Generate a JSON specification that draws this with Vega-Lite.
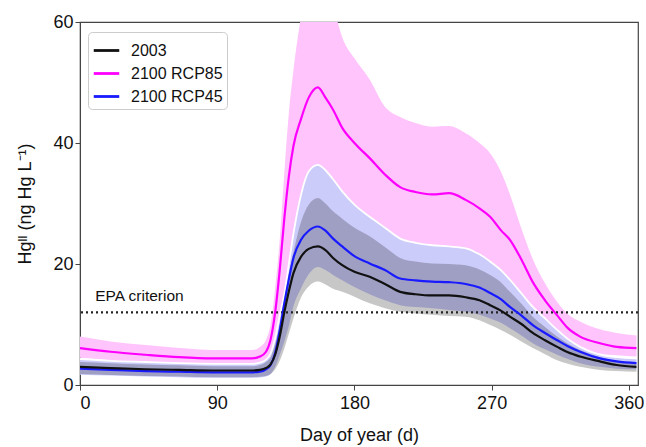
{
  "$schema": "https://vega.github.io/schema/vega-lite/v6.json",
  "width": 558,
  "height": 363,
  "autosize": "none",
  "padding": {"left": 80, "top": 22, "right": 8, "bottom": 62},
  "background": "white",
  "config": {
    "font": "Liberation Sans",
    "view": {"stroke": "#444", "strokeWidth": 1.2},
    "axis": {
      "grid": false,
      "domainColor": "#444",
      "tickColor": "#444",
      "tickSize": 5,
      "labelFontSize": 18,
      "labelColor": "#111",
      "titleFontSize": 18,
      "titleFontWeight": "normal",
      "titleColor": "#111"
    }
  },
  "datasets": {
    "series": [
      {"s": "2100 RCP85", "day": 0, "m": 6.1, "lo": 4.5, "hi": 8.0},
      {"s": "2100 RCP85", "day": 20, "m": 5.5, "lo": 4.1, "hi": 7.2},
      {"s": "2100 RCP85", "day": 43, "m": 5.0, "lo": 3.7, "hi": 6.6},
      {"s": "2100 RCP85", "day": 65, "m": 4.6, "lo": 3.5, "hi": 6.1},
      {"s": "2100 RCP85", "day": 87, "m": 4.4, "lo": 3.3, "hi": 5.8},
      {"s": "2100 RCP85", "day": 105, "m": 4.4, "lo": 3.3, "hi": 5.8},
      {"s": "2100 RCP85", "day": 113, "m": 4.4, "lo": 3.3, "hi": 5.8},
      {"s": "2100 RCP85", "day": 118, "m": 4.7, "lo": 3.5, "hi": 6.3},
      {"s": "2100 RCP85", "day": 122, "m": 5.5, "lo": 4.2, "hi": 7.5},
      {"s": "2100 RCP85", "day": 125, "m": 7.5, "lo": 5.2, "hi": 10.0},
      {"s": "2100 RCP85", "day": 128, "m": 12.0, "lo": 7.8, "hi": 16.0},
      {"s": "2100 RCP85", "day": 131, "m": 19.0, "lo": 11.5, "hi": 24.0},
      {"s": "2100 RCP85", "day": 134, "m": 27.5, "lo": 15.0, "hi": 35.0},
      {"s": "2100 RCP85", "day": 137, "m": 34.5, "lo": 20.0, "hi": 45.0},
      {"s": "2100 RCP85", "day": 140, "m": 39.5, "lo": 25.0, "hi": 52.0},
      {"s": "2100 RCP85", "day": 145, "m": 44.0, "lo": 31.5, "hi": 61.0},
      {"s": "2100 RCP85", "day": 150, "m": 47.5, "lo": 35.3, "hi": 68.0},
      {"s": "2100 RCP85", "day": 156, "m": 49.2, "lo": 36.4, "hi": 71.0},
      {"s": "2100 RCP85", "day": 161, "m": 47.5, "lo": 35.5, "hi": 69.0},
      {"s": "2100 RCP85", "day": 166, "m": 45.5, "lo": 34.0, "hi": 63.0},
      {"s": "2100 RCP85", "day": 172, "m": 42.5, "lo": 32.0, "hi": 57.5},
      {"s": "2100 RCP85", "day": 180, "m": 40.0, "lo": 29.8, "hi": 54.0},
      {"s": "2100 RCP85", "day": 190, "m": 37.5, "lo": 27.8, "hi": 50.5},
      {"s": "2100 RCP85", "day": 200, "m": 34.8, "lo": 26.0, "hi": 46.0},
      {"s": "2100 RCP85", "day": 210, "m": 32.7, "lo": 24.2, "hi": 44.3},
      {"s": "2100 RCP85", "day": 220, "m": 31.9, "lo": 23.5, "hi": 43.3},
      {"s": "2100 RCP85", "day": 231, "m": 31.5, "lo": 23.1, "hi": 42.7},
      {"s": "2100 RCP85", "day": 242, "m": 31.7, "lo": 22.9, "hi": 42.8},
      {"s": "2100 RCP85", "day": 253, "m": 30.6, "lo": 22.6, "hi": 41.6},
      {"s": "2100 RCP85", "day": 262, "m": 29.2, "lo": 21.6, "hi": 40.0},
      {"s": "2100 RCP85", "day": 269, "m": 27.8, "lo": 20.4, "hi": 38.3},
      {"s": "2100 RCP85", "day": 276, "m": 25.6, "lo": 19.0, "hi": 35.3},
      {"s": "2100 RCP85", "day": 282, "m": 24.0, "lo": 17.4, "hi": 31.5},
      {"s": "2100 RCP85", "day": 290, "m": 20.5, "lo": 15.0, "hi": 25.5},
      {"s": "2100 RCP85", "day": 297, "m": 17.0, "lo": 12.9, "hi": 20.8},
      {"s": "2100 RCP85", "day": 305, "m": 14.0, "lo": 11.0, "hi": 16.8},
      {"s": "2100 RCP85", "day": 313, "m": 11.5, "lo": 9.1, "hi": 13.7},
      {"s": "2100 RCP85", "day": 320, "m": 9.4, "lo": 7.6, "hi": 11.7},
      {"s": "2100 RCP85", "day": 328, "m": 8.0, "lo": 6.3, "hi": 10.5},
      {"s": "2100 RCP85", "day": 341, "m": 6.9, "lo": 5.2, "hi": 9.2},
      {"s": "2100 RCP85", "day": 352, "m": 6.3, "lo": 4.9, "hi": 8.6},
      {"s": "2100 RCP85", "day": 365, "m": 6.1, "lo": 4.7, "hi": 8.2},

      {"s": "2100 RCP45", "day": 0, "m": 2.7, "lo": 1.7, "hi": 4.3},
      {"s": "2100 RCP45", "day": 20, "m": 2.5, "lo": 1.55, "hi": 4.0},
      {"s": "2100 RCP45", "day": 43, "m": 2.3, "lo": 1.4, "hi": 3.8},
      {"s": "2100 RCP45", "day": 65, "m": 2.2, "lo": 1.3, "hi": 3.6},
      {"s": "2100 RCP45", "day": 87, "m": 2.1, "lo": 1.2, "hi": 3.5},
      {"s": "2100 RCP45", "day": 105, "m": 2.1, "lo": 1.2, "hi": 3.5},
      {"s": "2100 RCP45", "day": 113, "m": 2.1, "lo": 1.2, "hi": 3.5},
      {"s": "2100 RCP45", "day": 118, "m": 2.2, "lo": 1.25, "hi": 3.7},
      {"s": "2100 RCP45", "day": 122, "m": 2.6, "lo": 1.4, "hi": 4.2},
      {"s": "2100 RCP45", "day": 125, "m": 3.3, "lo": 1.8, "hi": 5.2},
      {"s": "2100 RCP45", "day": 128, "m": 5.3, "lo": 3.0, "hi": 7.8},
      {"s": "2100 RCP45", "day": 131, "m": 9.0, "lo": 5.0, "hi": 11.5},
      {"s": "2100 RCP45", "day": 134, "m": 13.5, "lo": 7.2, "hi": 15.0},
      {"s": "2100 RCP45", "day": 137, "m": 17.5, "lo": 9.8, "hi": 20.0},
      {"s": "2100 RCP45", "day": 140, "m": 21.0, "lo": 13.0, "hi": 25.0},
      {"s": "2100 RCP45", "day": 145, "m": 24.0, "lo": 16.0, "hi": 31.5},
      {"s": "2100 RCP45", "day": 150, "m": 25.5, "lo": 18.3, "hi": 35.3},
      {"s": "2100 RCP45", "day": 156, "m": 26.2, "lo": 19.5, "hi": 36.4},
      {"s": "2100 RCP45", "day": 161, "m": 25.5, "lo": 19.0, "hi": 35.5},
      {"s": "2100 RCP45", "day": 166, "m": 24.2, "lo": 18.2, "hi": 34.0},
      {"s": "2100 RCP45", "day": 172, "m": 22.9, "lo": 17.3, "hi": 32.0},
      {"s": "2100 RCP45", "day": 180, "m": 21.3, "lo": 16.2, "hi": 29.8},
      {"s": "2100 RCP45", "day": 190, "m": 20.1, "lo": 15.0, "hi": 27.8},
      {"s": "2100 RCP45", "day": 200, "m": 19.0, "lo": 14.0, "hi": 26.0},
      {"s": "2100 RCP45", "day": 210, "m": 17.6, "lo": 13.2, "hi": 24.2},
      {"s": "2100 RCP45", "day": 220, "m": 17.3, "lo": 12.9, "hi": 23.5},
      {"s": "2100 RCP45", "day": 231, "m": 17.1, "lo": 12.7, "hi": 23.1},
      {"s": "2100 RCP45", "day": 242, "m": 17.0, "lo": 12.4, "hi": 22.9},
      {"s": "2100 RCP45", "day": 253, "m": 16.7, "lo": 12.1, "hi": 22.6},
      {"s": "2100 RCP45", "day": 262, "m": 16.1, "lo": 11.6, "hi": 21.6},
      {"s": "2100 RCP45", "day": 269, "m": 15.2, "lo": 11.0, "hi": 20.4},
      {"s": "2100 RCP45", "day": 276, "m": 14.2, "lo": 10.3, "hi": 19.0},
      {"s": "2100 RCP45", "day": 282, "m": 12.9, "lo": 9.4, "hi": 17.4},
      {"s": "2100 RCP45", "day": 290, "m": 11.4, "lo": 8.1, "hi": 15.0},
      {"s": "2100 RCP45", "day": 297, "m": 9.9, "lo": 6.9, "hi": 12.9},
      {"s": "2100 RCP45", "day": 305, "m": 8.6, "lo": 5.9, "hi": 11.0},
      {"s": "2100 RCP45", "day": 313, "m": 7.4, "lo": 5.0, "hi": 9.1},
      {"s": "2100 RCP45", "day": 320, "m": 6.4, "lo": 4.3, "hi": 7.6},
      {"s": "2100 RCP45", "day": 328, "m": 5.5, "lo": 3.6, "hi": 6.3},
      {"s": "2100 RCP45", "day": 341, "m": 4.4, "lo": 3.0, "hi": 5.0},
      {"s": "2100 RCP45", "day": 352, "m": 3.9, "lo": 2.7, "hi": 4.6},
      {"s": "2100 RCP45", "day": 365, "m": 3.6, "lo": 2.6, "hi": 4.4},

      {"s": "2003", "day": 0, "m": 3.0, "lo": 1.8, "hi": 3.8},
      {"s": "2003", "day": 20, "m": 2.8, "lo": 1.65, "hi": 3.6},
      {"s": "2003", "day": 43, "m": 2.6, "lo": 1.5, "hi": 3.4},
      {"s": "2003", "day": 65, "m": 2.5, "lo": 1.4, "hi": 3.25},
      {"s": "2003", "day": 87, "m": 2.4, "lo": 1.3, "hi": 3.1},
      {"s": "2003", "day": 105, "m": 2.4, "lo": 1.3, "hi": 3.1},
      {"s": "2003", "day": 113, "m": 2.4, "lo": 1.3, "hi": 3.1},
      {"s": "2003", "day": 118, "m": 2.5, "lo": 1.35, "hi": 3.3},
      {"s": "2003", "day": 122, "m": 2.8, "lo": 1.5, "hi": 3.8},
      {"s": "2003", "day": 125, "m": 3.4, "lo": 1.8, "hi": 4.6},
      {"s": "2003", "day": 128, "m": 5.0, "lo": 2.6, "hi": 6.8},
      {"s": "2003", "day": 131, "m": 8.0, "lo": 4.0, "hi": 10.0},
      {"s": "2003", "day": 134, "m": 12.0, "lo": 6.0, "hi": 14.5},
      {"s": "2003", "day": 137, "m": 15.5, "lo": 8.5, "hi": 18.5},
      {"s": "2003", "day": 140, "m": 18.5, "lo": 11.0, "hi": 22.0},
      {"s": "2003", "day": 145, "m": 21.2, "lo": 14.5, "hi": 27.0},
      {"s": "2003", "day": 150, "m": 22.5, "lo": 16.3, "hi": 29.8},
      {"s": "2003", "day": 156, "m": 22.9, "lo": 17.1, "hi": 30.9},
      {"s": "2003", "day": 161, "m": 22.3, "lo": 16.6, "hi": 30.0},
      {"s": "2003", "day": 166, "m": 21.0, "lo": 15.9, "hi": 28.7},
      {"s": "2003", "day": 172, "m": 19.8, "lo": 15.4, "hi": 27.5},
      {"s": "2003", "day": 180, "m": 18.7, "lo": 14.6, "hi": 26.0},
      {"s": "2003", "day": 190, "m": 17.9, "lo": 13.5, "hi": 24.6},
      {"s": "2003", "day": 200, "m": 16.7, "lo": 12.7, "hi": 22.8},
      {"s": "2003", "day": 210, "m": 15.4, "lo": 12.1, "hi": 21.0},
      {"s": "2003", "day": 220, "m": 15.0, "lo": 11.8, "hi": 20.4},
      {"s": "2003", "day": 231, "m": 14.8, "lo": 11.6, "hi": 20.1},
      {"s": "2003", "day": 242, "m": 14.8, "lo": 11.4, "hi": 20.0},
      {"s": "2003", "day": 253, "m": 14.5, "lo": 11.3, "hi": 19.8},
      {"s": "2003", "day": 262, "m": 14.0, "lo": 10.7, "hi": 19.1},
      {"s": "2003", "day": 269, "m": 13.2, "lo": 9.9, "hi": 18.2},
      {"s": "2003", "day": 276, "m": 12.3, "lo": 9.1, "hi": 17.0},
      {"s": "2003", "day": 282, "m": 11.3, "lo": 8.3, "hi": 15.4},
      {"s": "2003", "day": 290, "m": 10.0, "lo": 7.1, "hi": 13.3},
      {"s": "2003", "day": 297, "m": 8.6, "lo": 6.1, "hi": 11.3},
      {"s": "2003", "day": 305, "m": 7.4, "lo": 5.1, "hi": 9.6},
      {"s": "2003", "day": 313, "m": 6.3, "lo": 4.1, "hi": 8.0},
      {"s": "2003", "day": 320, "m": 5.4, "lo": 3.5, "hi": 6.8},
      {"s": "2003", "day": 328, "m": 4.7, "lo": 3.0, "hi": 5.8},
      {"s": "2003", "day": 341, "m": 3.9, "lo": 2.5, "hi": 4.6},
      {"s": "2003", "day": 352, "m": 3.3, "lo": 2.3, "hi": 4.0},
      {"s": "2003", "day": 365, "m": 3.0, "lo": 2.2, "hi": 3.7}
    ]
  },
  "layer": [
    {
      "data": {"name": "series"},
      "transform": [{"filter": "datum.s == '2100 RCP85'"}],
      "mark": {"type": "area", "fill": "#ffc4fb", "interpolate": "monotone", "clip": true},
      "encoding": {
        "x": {
          "field": "day",
          "type": "quantitative",
          "scale": {"domain": [0, 366], "nice": false, "zero": false},
          "axis": {"values": [0, 90, 180, 270, 360], "title": "Day of year (d)", "labelPadding": 4, "titlePadding": 14}
        },
        "y": {
          "field": "hi",
          "type": "quantitative",
          "scale": {"domain": [0, 60], "nice": false},
          "axis": {"values": [0, 20, 40, 60], "title": "Hgᴵᴵ (ng Hg L⁻¹)", "labelPadding": 2, "titlePadding": 18}
        },
        "y2": {"field": "lo"}
      }
    },
    {
      "data": {"name": "series"},
      "transform": [{"filter": "datum.s == '2100 RCP45'"}],
      "mark": {"type": "area", "fill": "#ccccfb", "interpolate": "monotone", "clip": true},
      "encoding": {"x": {"field": "day", "type": "quantitative"}, "y": {"field": "hi", "type": "quantitative"}, "y2": {"field": "lo"}}
    },
    {
      "data": {"name": "series"},
      "transform": [{"filter": "datum.s == '2003'"}],
      "mark": {"type": "area", "fill": "#000000", "fillOpacity": 0.22, "interpolate": "monotone", "clip": true},
      "encoding": {"x": {"field": "day", "type": "quantitative"}, "y": {"field": "hi", "type": "quantitative"}, "y2": {"field": "lo"}}
    },
    {
      "data": {"name": "series"},
      "transform": [{"filter": "datum.s == '2100 RCP45'"}],
      "mark": {"type": "line", "stroke": "#ffffff", "strokeWidth": 1.8, "interpolate": "monotone", "clip": true},
      "encoding": {"x": {"field": "day", "type": "quantitative"}, "y": {"field": "hi", "type": "quantitative"}}
    },
    {
      "data": {"values": [{"c": 12}]},
      "mark": {"type": "rule", "color": "#222222", "strokeWidth": 2.2, "strokeDash": [2, 3]},
      "encoding": {"y": {"field": "c", "type": "quantitative"}}
    },
    {
      "data": {"name": "series"},
      "mark": {"type": "line", "strokeWidth": 2.2, "interpolate": "monotone", "clip": true},
      "encoding": {
        "x": {"field": "day", "type": "quantitative"},
        "y": {"field": "m", "type": "quantitative"},
        "color": {
          "field": "s",
          "type": "nominal",
          "scale": {"domain": ["2003", "2100 RCP85", "2100 RCP45"], "range": ["#111111", "#ff00ff", "#1a1aff"]},
          "legend": {
            "title": null,
            "orient": "none",
            "legendX": 8,
            "legendY": 10,
            "symbolType": "stroke",
            "symbolSize": 650,
            "symbolStrokeWidth": 2.8,
            "labelFontSize": 16,
            "labelColor": "#111",
            "labelOffset": 10,
            "rowPadding": 0,
            "padding": 4,
            "strokeColor": "#cccccc",
            "fillColor": "#ffffff",
            "cornerRadius": 4
          }
        }
      }
    },
    {
      "data": {"values": [{"day": 10, "v": 13.9, "t": "EPA criterion"}]},
      "mark": {"type": "text", "align": "left", "baseline": "alphabetic", "fontSize": 15.5, "color": "#111"},
      "encoding": {"x": {"field": "day", "type": "quantitative"}, "y": {"field": "v", "type": "quantitative"}, "text": {"field": "t"}}
    }
  ]
}
